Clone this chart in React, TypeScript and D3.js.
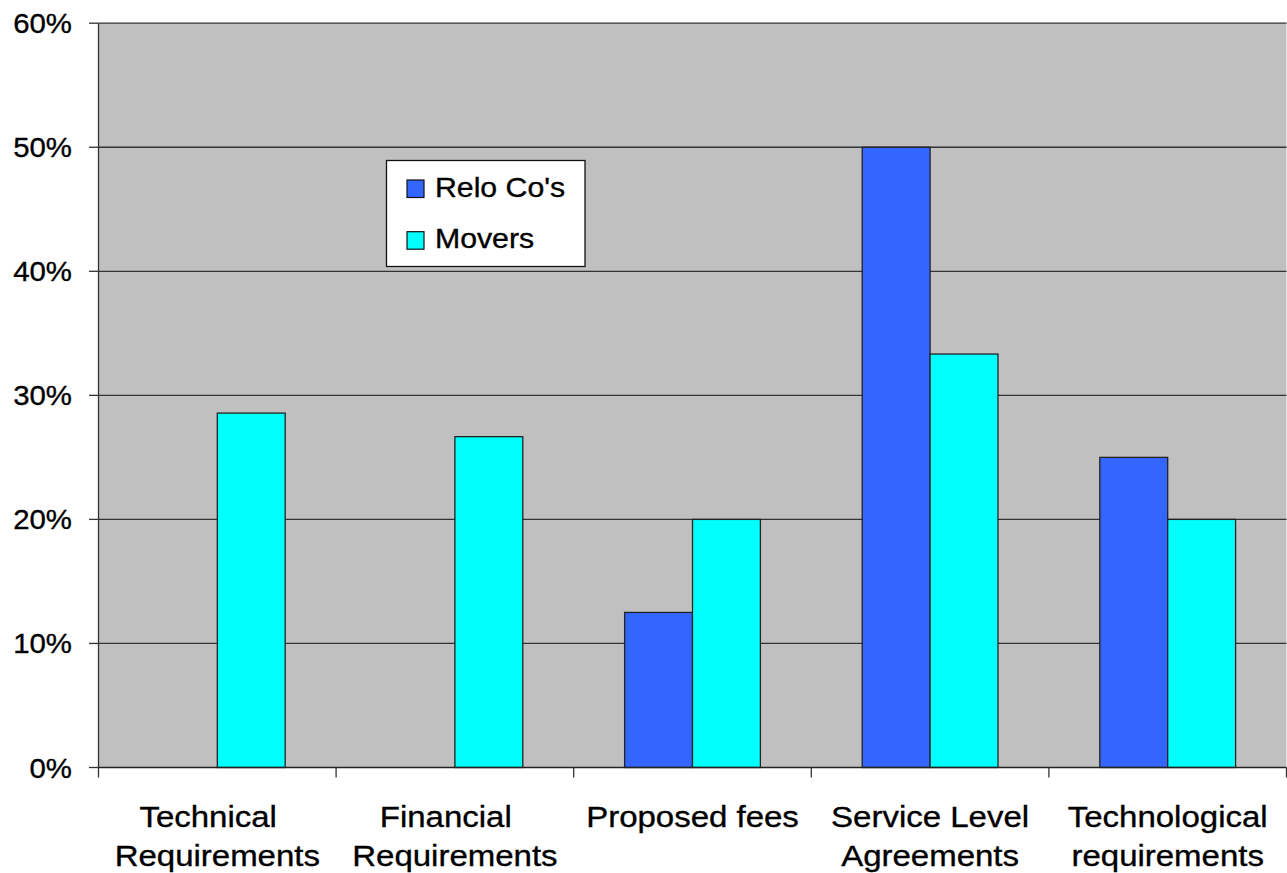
import React from "react";
import * as d3 from "d3";

const categories: string[][] = [
  ["Technical  ", "Requirements"],
  ["Financial  ", "Requirements"],
  ["Proposed fees"],
  ["Service Level", "Agreements"],
  ["Technological", "requirements"],
];
const seriesNames = ["Relo Co's", "Movers"];
const reloValues = [0, 0, 0.125, 0.5, 0.25];
const moversValues = [0.2857, 0.2667, 0.2, 0.3333, 0.2];
const yTicks = [0, 0.1, 0.2, 0.3, 0.4, 0.5, 0.6];
const colors = ["#3366FF", "#00FFFF"];

const W = 1287;
const H = 873;
const left = 98.5;
const right = 1286.5;
const top = 23.2;
const bottom = 767.5;
const FONT = "'Liberation Sans', Arial, sans-serif";

export default function App() {
  const idx = categories.map((_, i) => String(i));
  const x = d3.scaleBand<string>().domain(idx).range([left, right]).paddingInner(0).paddingOuter(0);
  const inner = d3
    .scaleBand<string>()
    .domain(seriesNames)
    .range([0, x.bandwidth()])
    .paddingInner(0)
    .paddingOuter(0.75);
  const y = d3.scaleLinear().domain([0, 0.6]).range([bottom, top]);
  const fmt = d3.format(".0%");
  const series = [reloValues, moversValues];

  const stretchedText = (
    key: string,
    tx: number,
    ty: number,
    text: string,
    size: number,
    anchor: "start" | "middle" | "end",
    sx = 1.1
  ) => (
    <text
      key={key}
      transform={`translate(${tx},${ty}) scale(${sx},1)`}
      textAnchor={anchor}
      fontSize={size}
      fontFamily={FONT}
      fill="#000"
      stroke="#000"
      strokeWidth={0.35}
      style={{ whiteSpace: "pre" }}
    >
      {text}
    </text>
  );

  const boundaries = d3.range(categories.length + 1).map((i) => left + i * x.step());

  return (
    <svg width={W} height={H} style={{ position: "absolute", left: 0, top: 0, background: "#fff" }}>
      <rect x={left} y={top} width={right - left} height={bottom - top} fill="#C0C0C0" />
      {yTicks.map((t) => (
        <g key={"g" + t}>
          {t > 0 && <line x1={left} x2={right} y1={y(t)} y2={y(t)} stroke="#333" strokeWidth={1.3} />}
          <line x1={89} x2={left} y1={y(t)} y2={y(t)} stroke="#333" strokeWidth={1.3} />
          {stretchedText("yl" + t, 72, y(t) + 10, fmt(t), 28, "end", 1.05)}
        </g>
      ))}
      {series.map((vals, si) =>
        vals.map((v, ci) =>
          v > 0 ? (
            <rect
              key={`b${si}-${ci}`}
              x={(x(String(ci)) as number) + (inner(seriesNames[si]) as number)}
              y={y(v)}
              width={inner.bandwidth()}
              height={bottom - y(v)}
              fill={colors[si]}
              stroke="#222"
              strokeWidth={1.3}
            />
          ) : null
        )
      )}
      <line x1={left} x2={left} y1={top} y2={bottom} stroke="#333" strokeWidth={1.3} />
      <line x1={left} x2={right} y1={bottom} y2={bottom} stroke="#222" strokeWidth={1.5} />
      {boundaries.map((bx, i) => (
        <line key={"xt" + i} x1={bx} x2={bx} y1={bottom} y2={777.5} stroke="#333" strokeWidth={1.3} />
      ))}
      {categories.map((lines, ci) => {
        const cx = (x(String(ci)) as number) + x.bandwidth() / 2;
        return (
          <g key={"cat" + ci}>
            {lines.map((ln, li) => stretchedText(`c${ci}-${li}`, cx, 826.5 + li * 39, ln, 30, "middle"))}
          </g>
        );
      })}
      <g>
        <rect x={386.5} y={160.5} width={198.5} height={106} fill="#fff" stroke="#111" strokeWidth={1.3} />
        {seriesNames.map((name, i) => (
          <g key={"lg" + i}>
            <rect x={407} y={180 + i * 51.7} width={17} height={17.5} fill={colors[i]} stroke="#111" strokeWidth={1.2} />
            {stretchedText("lt" + i, 435, 196.7 + i * 51, name, 27.5, "start")}
          </g>
        ))}
      </g>
    </svg>
  );
}
